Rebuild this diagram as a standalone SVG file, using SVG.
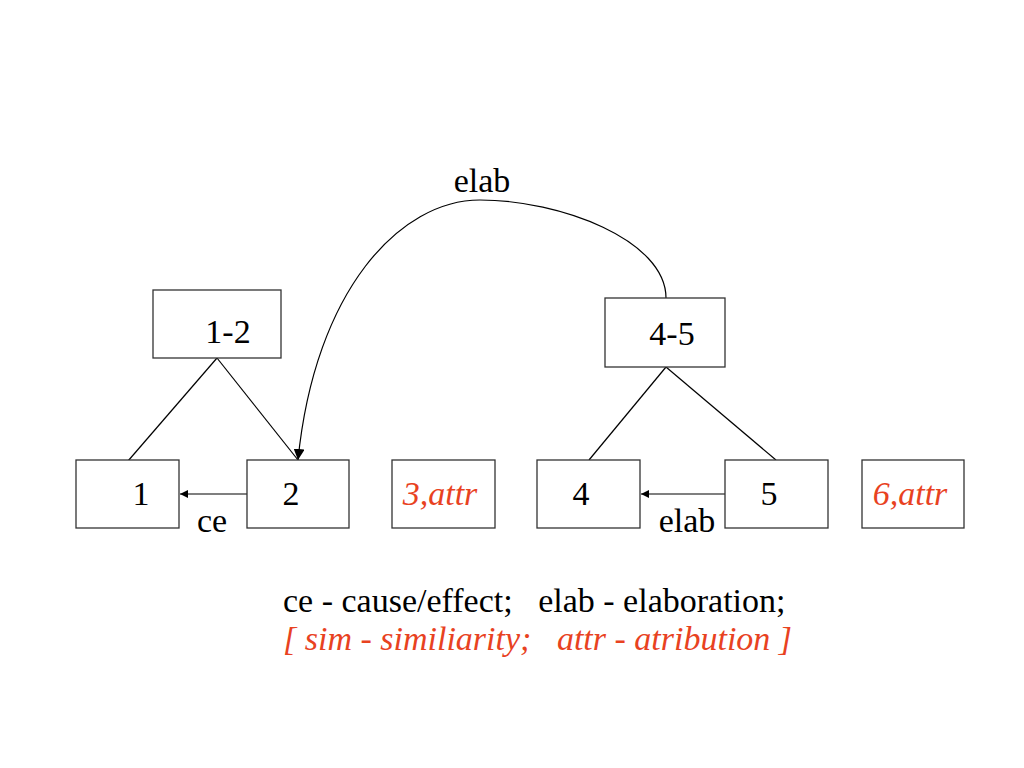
<svg xmlns="http://www.w3.org/2000/svg" width="1024" height="768" viewBox="0 0 1024 768">
<defs>
<marker id="ah" viewBox="0 0 10 10" refX="10" refY="5" markerWidth="8" markerHeight="8" markerUnits="userSpaceOnUse" orient="auto">
<path d="M0,0 L10,5 L0,10 z" fill="#000"/>
</marker>
<marker id="ah2" viewBox="0 0 10 10" refX="10" refY="5" markerWidth="11" markerHeight="11" markerUnits="userSpaceOnUse" orient="auto">
<path d="M0,0 L10,5 L0,10 z" fill="#000"/>
</marker>
</defs>
<rect width="1024" height="768" fill="#fff"/>
<g id="connectors" fill="none" stroke="#000" stroke-width="1.2">
<line x1="217" y1="358" x2="128" y2="461"/>
<line x1="217" y1="358" x2="298" y2="460"/>
<line x1="666" y1="367" x2="589" y2="460"/>
<line x1="666" y1="367" x2="776" y2="460"/>
<line x1="247" y1="494" x2="180" y2="494" marker-end="url(#ah)"/>
<line x1="725" y1="494" x2="641" y2="494" marker-end="url(#ah)"/>
<path d="M666,298 C666,240 560,200 480,200 C400,200 315,290 298,460" marker-end="url(#ah2)"/>
</g>
<g id="connector-labels" font-family="Liberation Serif" font-size="34" fill="#000" text-anchor="middle">
<text x="212" y="532">ce</text>
<text x="687" y="532">elab</text>
<text x="482" y="192">elab</text>
</g>
<g id="nodes" font-family="Liberation Serif" font-size="34" text-anchor="middle">
<g id="n12"><rect x="153" y="290" width="128" height="68" fill="#fff" stroke="#333" stroke-width="1.3"/><text x="228" y="343" fill="#000">1-2</text></g>
<g id="n45"><rect x="605" y="298" width="120" height="69" fill="#fff" stroke="#333" stroke-width="1.3"/><text x="672" y="345" fill="#000">4-5</text></g>
<g id="n1"><rect x="76" y="460" width="103" height="68" fill="#fff" stroke="#333" stroke-width="1.3"/><text x="141" y="505" fill="#000">1</text></g>
<g id="n2"><rect x="247" y="460" width="102" height="68" fill="#fff" stroke="#333" stroke-width="1.3"/><text x="291" y="505" fill="#000">2</text></g>
<g id="n3"><rect x="392" y="460" width="103" height="68" fill="#fff" stroke="#333" stroke-width="1.3"/><text x="440" y="505" fill="#e8421f" font-style="italic">3,attr</text></g>
<g id="n4"><rect x="537" y="460" width="103" height="68" fill="#fff" stroke="#333" stroke-width="1.3"/><text x="581" y="505" fill="#000">4</text></g>
<g id="n5"><rect x="725" y="460" width="103" height="68" fill="#fff" stroke="#333" stroke-width="1.3"/><text x="769" y="505" fill="#000">5</text></g>
<g id="n6"><rect x="862" y="460" width="102" height="68" fill="#fff" stroke="#333" stroke-width="1.3"/><text x="910" y="505" fill="#e8421f" font-style="italic">6,attr</text></g>
</g>
<g id="legend" font-family="Liberation Serif" font-size="34">
<text x="283" y="612" fill="#000" xml:space="preserve">ce - cause/effect;   elab - elaboration;</text>
<text x="283" y="650" xml:space="preserve" font-style="italic" fill="#e8421f">[ sim - similiarity;   attr - atribution ]</text>
</g>
</svg>
